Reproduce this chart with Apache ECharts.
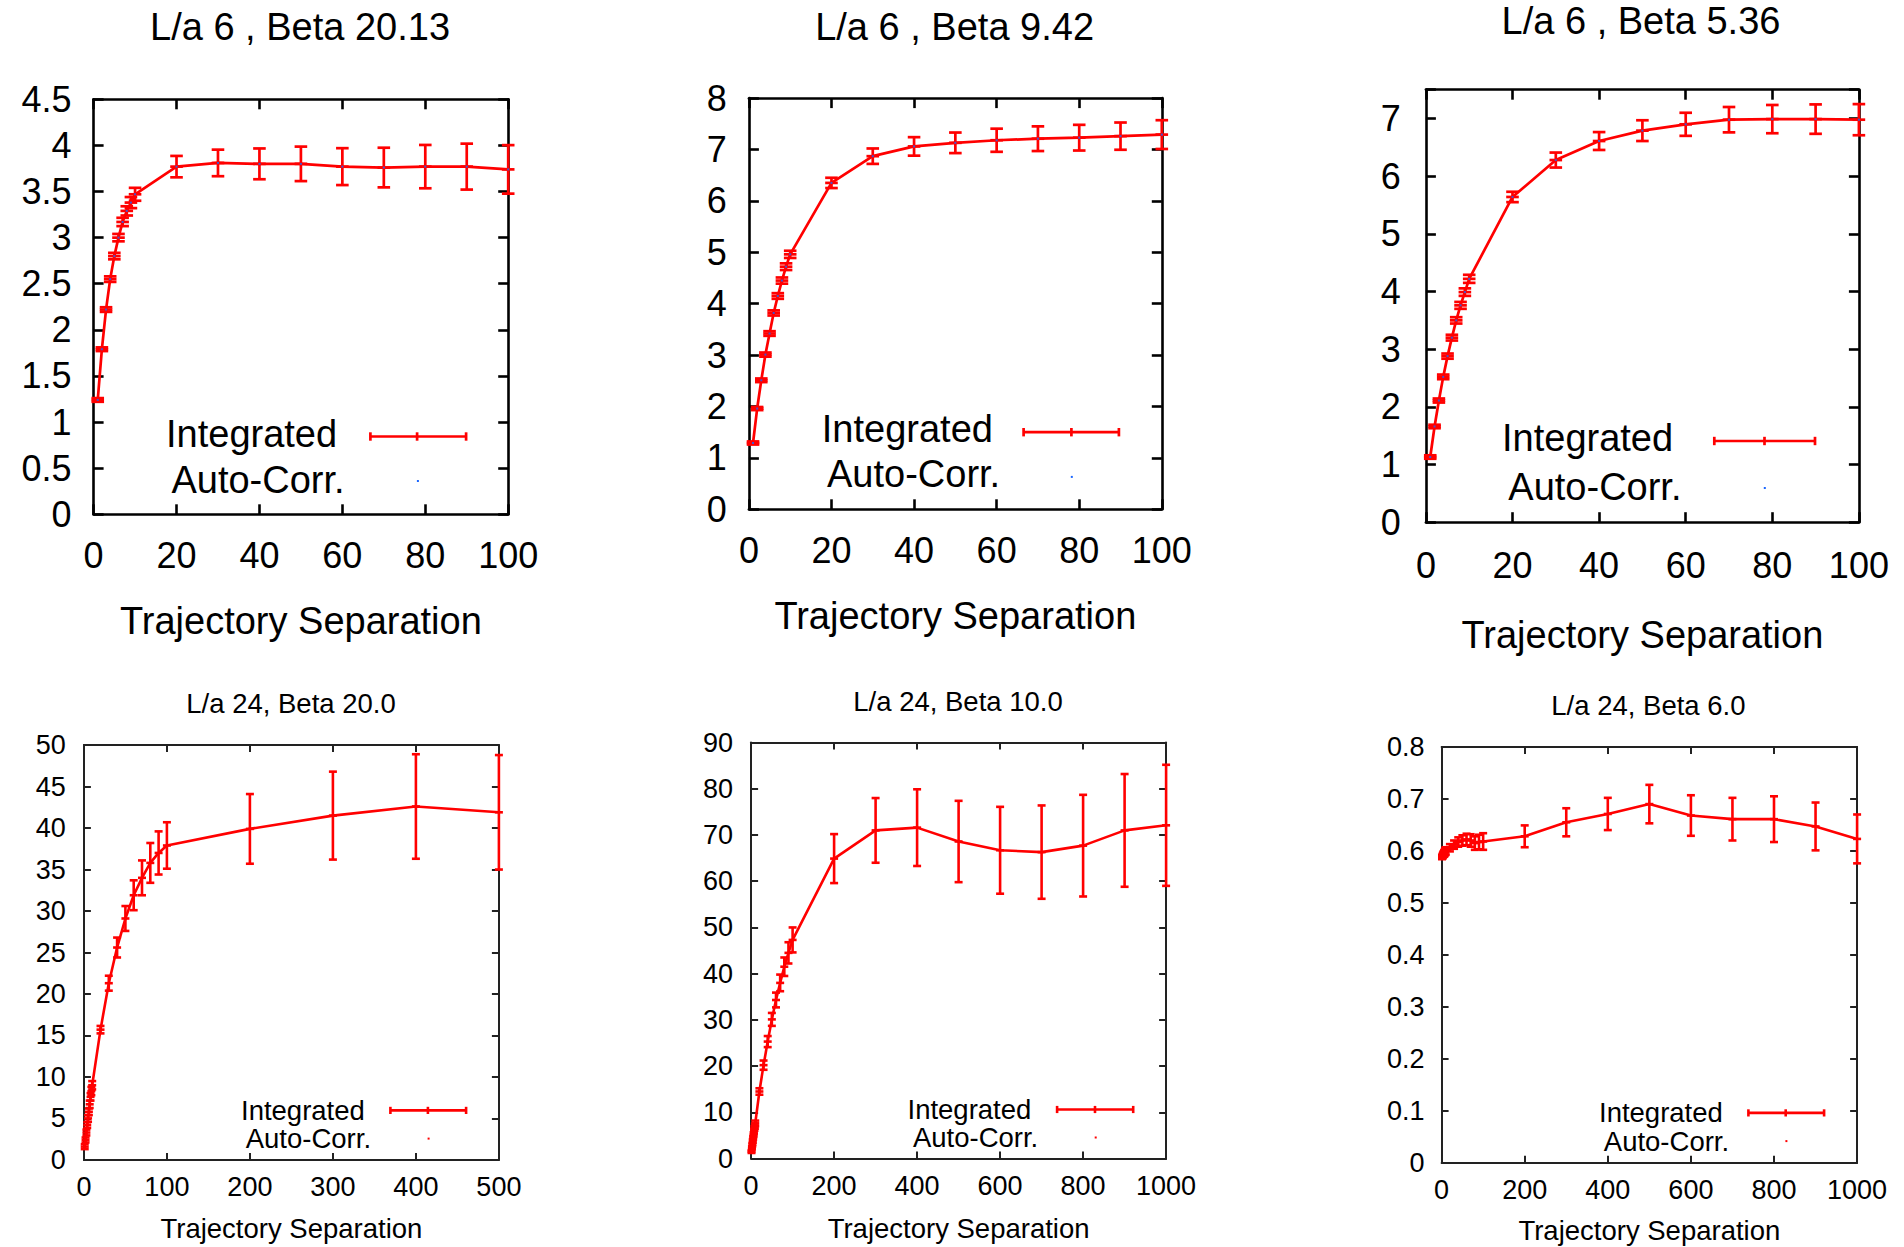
<!DOCTYPE html>
<html>
<head>
<meta charset="utf-8">
<title>Integrated Auto-Correlation vs Trajectory Separation</title>
<script src="https://cdn.jsdelivr.net/npm/echarts@6/dist/echarts.min.js"></script>
<style>
  html, body { margin: 0; padding: 0; background: #fff; }
  #chart { width: 1904px; height: 1247px; }
</style>
</head>
<body>
<div id="chart"></div>
<script>
// ---- Data: trajectory separations and integrated auto-correlation with errors ----
const sepShort = [1, 2, 3, 4, 5, 6, 7, 8, 9, 10, 20, 30, 40, 50, 60, 70, 80, 90, 100];
const sepMid = [1, 2, 3, 4, 5, 6, 7, 8, 9, 10, 20, 30, 40, 50, 60, 70, 80, 90, 100, 200, 300, 400, 500];
const sepLong = [1, 2, 3, 4, 5, 6, 7, 8, 9, 10, 20, 30, 40, 50, 60, 70, 80, 90, 100,
                 200, 300, 400, 500, 600, 700, 800, 900, 1000];

// L/a 6, Beta 20.13
const tauL6B2013 = [1.24, 1.79, 2.22, 2.55, 2.80, 3.00, 3.17, 3.29, 3.38, 3.47,
                    3.77, 3.81, 3.80, 3.80, 3.77, 3.76, 3.77, 3.77, 3.74];
const errL6B2013 = [0.02, 0.02, 0.025, 0.03, 0.035, 0.04, 0.045, 0.05, 0.06, 0.07,
                    0.116, 0.144, 0.167, 0.187, 0.20, 0.215, 0.235, 0.249, 0.263];

// L/a 6, Beta 9.42
const tauL6B942 = [1.29, 1.96, 2.51, 3.01, 3.42, 3.82, 4.15, 4.45, 4.72, 4.96,
                   6.35, 6.87, 7.06, 7.13, 7.18, 7.21, 7.23, 7.26, 7.29];
const errL6B942 = [0.03, 0.03, 0.035, 0.04, 0.045, 0.05, 0.055, 0.06, 0.065, 0.07,
                   0.10, 0.15, 0.18, 0.20, 0.225, 0.24, 0.25, 0.265, 0.28];

// L/a 6, Beta 5.36
const tauL6B536 = [1.13, 1.66, 2.11, 2.52, 2.88, 3.20, 3.50, 3.76, 3.99, 4.22,
                   5.64, 6.28, 6.61, 6.79, 6.90, 6.98, 6.99, 6.99, 6.98];
const errL6B536 = [0.03, 0.03, 0.035, 0.04, 0.045, 0.05, 0.055, 0.06, 0.065, 0.07,
                   0.09, 0.13, 0.155, 0.18, 0.20, 0.22, 0.245, 0.255, 0.27];

// L/a 24, Beta 20.0
const tauL24B20 = [1.6, 2.4, 3.3, 4.2, 5.0, 5.8, 6.7, 7.6, 8.3, 9.0,
                   15.7, 21.3, 25.6, 29.1, 31.9, 34.0, 35.8, 37.0, 37.9,
                   39.9, 41.5, 42.6, 41.9];
const errL24B20 = [0.3, 0.3, 0.35, 0.35, 0.4, 0.4, 0.45, 0.45, 0.5, 0.5,
                   0.45, 0.9, 1.2, 1.5, 1.8, 2.1, 2.4, 2.6, 2.8,
                   4.2, 5.3, 6.3, 6.9];

// L/a 24, Beta 10.0
const tauL24B10 = [1.5, 2.3, 3.0, 3.8, 4.5, 5.2, 5.9, 6.5, 7.0, 7.6,
                   14.5, 20.2, 25.3, 30.1, 34.3, 38.0, 41.5, 44.5, 47.3,
                   64.9, 71.0, 71.6, 68.6, 66.7, 66.3, 67.7, 71.0, 72.1];
const errL24B10 = [0.3, 0.3, 0.35, 0.4, 0.4, 0.45, 0.5, 0.5, 0.55, 0.6,
                   0.7, 1.0, 1.2, 1.4, 1.6, 1.8, 2.0, 2.3, 2.7,
                   5.3, 7.0, 8.3, 8.8, 9.4, 10.1, 11.0, 12.2, 13.1];

// L/a 24, Beta 6.0
const tauL24B6 = [0.588, 0.590, 0.591, 0.593, 0.594, 0.595, 0.596, 0.598, 0.599, 0.600,
                  0.606, 0.612, 0.617, 0.620, 0.622, 0.620, 0.615, 0.617, 0.618,
                  0.628, 0.655, 0.671, 0.690, 0.668, 0.661, 0.661, 0.647, 0.623];
const errL24B6 = [0.004, 0.004, 0.005, 0.005, 0.005, 0.006, 0.006, 0.006, 0.007, 0.007,
                  0.007, 0.008, 0.009, 0.010, 0.011, 0.012, 0.013, 0.014, 0.016,
                  0.021, 0.027, 0.031, 0.037, 0.039, 0.041, 0.044, 0.046, 0.047];

// Panel titles and axis ranges
const panelTitles = ['L/a 6 , Beta 20.13', 'L/a 6 , Beta 9.42', 'L/a 6 , Beta 5.36',
                     'L/a 24, Beta 20.0', 'L/a 24, Beta 10.0', 'L/a 24, Beta 6.0'];
const xRanges = [[0, 100, 20], [0, 100, 20], [0, 100, 20], [0, 500, 100], [0, 1000, 200], [0, 1000, 200]];
const yRanges = [[0, 4.5, 0.5], [0, 8, 1], [0, 7.5, 1], [0, 50, 5], [0, 90, 10], [0, 0.8, 0.1]];
const xAxisTitle = 'Trajectory Separation';
const legendLine1 = 'Integrated';
const legendLine2 = 'Auto-Corr.';

const panelData = [
  [sepShort, tauL6B2013, errL6B2013],
  [sepShort, tauL6B942, errL6B942],
  [sepShort, tauL6B536, errL6B536],
  [sepMid, tauL24B20, errL24B20],
  [sepLong, tauL24B10, errL24B10],
  [sepLong, tauL24B6, errL24B6]
];

// ---- Layout and styling of each panel ----
const FONT = '"Liberation Sans", Arial, Helvetica, sans-serif';
const RED = '#ff0000';
const big = { tick: 36, text: 38, frame: 2.6, frameColor: '#000', tickLen: 10, cap: 6.3, line: 2.7, dotColor: '#1a66ff' };
const small = { tick: 27, text: 27.5, frame: 2, frameColor: '#222', tickLen: 7, cap: 4, line: 2.6, dotColor: RED };

const layouts = [
  { s: big, grid: [93.6, 99.3, 414.6, 415], title: [300, 27.4], yMargin: 22, xMargin: 23, nameGap: 88,
    leg: { t1: [166, 433.5], t2: [171.4, 479.8], line: [370.4, 466.1, 436.5], mid: 417.1, dot: [417.9, 481] } },
  { s: big, grid: [748.9, 98.1, 412.9, 411.2], title: [954.6, 27.4], yMargin: 22, xMargin: 23, nameGap: 88,
    leg: { t1: [821.8, 429.3], t2: [827, 473.5], line: [1023.6, 1118.9, 432.2], mid: 1071.4, dot: [1071.8, 476.9] } },
  { s: big, grid: [1425.9, 89.7, 433, 432.5], title: [1641, 21], yMargin: 25, xMargin: 25, nameGap: 94,
    leg: { t1: [1502, 438], t2: [1508.3, 487.2], line: [1714.3, 1815, 441], mid: 1764.5, dot: [1764.8, 488] } },
  { s: small, grid: [83.9, 745.1, 415, 414.8], title: [291, 703], yMargin: 18, xMargin: 14, nameGap: 55,
    leg: { t1: [241, 1110.4], t2: [245.7, 1138.6], line: [390.4, 466.1, 1110.4], mid: 427.9, dot: [428.6, 1138.6] } },
  { s: small, grid: [751.1, 742.6, 415, 415.9], title: [958, 701.7], yMargin: 18, xMargin: 14, nameGap: 56,
    leg: { t1: [907.5, 1109.7], t2: [912.9, 1137.5], line: [1057.1, 1133.2, 1109.5], mid: 1095, dot: [1095.7, 1137.5] } },
  { s: small, grid: [1441.6, 746.9, 415.5, 415.9], title: [1648.4, 705], yMargin: 17, xMargin: 14, nameGap: 54,
    leg: { t1: [1599, 1112.9], t2: [1603.8, 1141.1], line: [1748.4, 1824.1, 1112.9], mid: 1785.7, dot: [1786.4, 1141.1] } }
];

// Plain number labels (no thousands separators), blank for off-interval ticks
function plainLabel(step) {
  return function (v) {
    const k = Math.round(v / step);
    if (Math.abs(k * step - v) > 1e-9) return '';
    return String(+v.toFixed(3));
  };
}

// Error bar renderer: vertical bar, end caps and a short cross-tick at the point
function makeErrorBar(capPx, lw) {
  return function (params, api) {
    const x = api.value(0), y = api.value(1), e = api.value(2);
    const c = api.coord([x, y]);
    const hi = api.coord([x, y + e]);
    const lo = api.coord([x, y - e]);
    const st = { stroke: RED, lineWidth: lw, fill: null };
    return {
      type: 'group',
      children: [
        { type: 'line', shape: { x1: c[0], y1: hi[1], x2: c[0], y2: lo[1] }, style: st },
        { type: 'line', shape: { x1: c[0] - capPx, y1: hi[1], x2: c[0] + capPx, y2: hi[1] }, style: st },
        { type: 'line', shape: { x1: c[0] - capPx, y1: lo[1], x2: c[0] + capPx, y2: lo[1] }, style: st },
        { type: 'line', shape: { x1: c[0] - capPx, y1: c[1], x2: c[0] + capPx, y2: c[1] }, style: st }
      ]
    };
  };
}

const grids = [], xAxes = [], yAxes = [], series = [], graphics = [];

layouts.forEach(function (L, i) {
  const s = L.s;
  const [gx, gy, gw, gh] = L.grid;
  grids.push({ left: gx, top: gy, width: gw, height: gh, containLabel: false });

  const axisLine = { show: true, onZero: false, lineStyle: { color: s.frameColor, width: s.frame } };
  const axisTick = { show: true, inside: true, length: s.tickLen, lineStyle: { color: s.frameColor, width: s.frame } };
  const [xmin, xmax, xint] = xRanges[i];
  const [ymin, ymax, yint] = yRanges[i];

  xAxes.push({
    type: 'value', gridIndex: i, position: 'bottom', min: xmin, max: xmax, interval: xint,
    axisLine: axisLine, axisTick: axisTick, splitLine: { show: false },
    axisLabel: { color: '#000', fontSize: s.tick, fontFamily: FONT, margin: L.xMargin, formatter: plainLabel(xint) },
    name: xAxisTitle, nameLocation: 'middle', nameGap: L.nameGap,
    nameTextStyle: { color: '#000', fontSize: s.text, fontFamily: FONT }
  });
  xAxes.push({
    type: 'value', gridIndex: i, position: 'top', min: xmin, max: xmax, interval: xint,
    axisLine: axisLine, axisTick: axisTick, splitLine: { show: false }, axisLabel: { show: false }
  });
  yAxes.push({
    type: 'value', gridIndex: i, position: 'left', min: ymin, max: ymax, interval: yint,
    axisLine: axisLine, axisTick: axisTick, splitLine: { show: false },
    axisLabel: { color: '#000', fontSize: s.tick, fontFamily: FONT, margin: L.yMargin, formatter: plainLabel(yint) }
  });
  yAxes.push({
    type: 'value', gridIndex: i, position: 'right', min: ymin, max: ymax, interval: yint,
    axisLine: axisLine, axisTick: axisTick, splitLine: { show: false }, axisLabel: { show: false }
  });

  const [xs, ys, es] = panelData[i];
  const lineData = xs.map(function (x, k) { return [x, ys[k]]; });
  const errData = xs.map(function (x, k) { return [x, ys[k], es[k]]; });

  series.push({
    name: legendLine1, type: 'line', xAxisIndex: 2 * i, yAxisIndex: 2 * i,
    data: lineData, showSymbol: false, symbol: 'none', clip: false,
    lineStyle: { color: RED, width: s.line }, z: 3, silent: true
  });
  series.push({
    name: legendLine1 + ' error', type: 'custom', xAxisIndex: 2 * i, yAxisIndex: 2 * i,
    data: errData, encode: { x: 0, y: 1 }, clip: false,
    renderItem: makeErrorBar(s.cap, s.line), z: 4, silent: true
  });
  series.push({
    name: legendLine2, type: 'scatter', xAxisIndex: 2 * i, yAxisIndex: 2 * i,
    data: lineData, symbol: 'rect', symbolSize: 2, itemStyle: { color: s.dotColor }, z: 5, silent: true
  });

  // Title
  graphics.push({
    type: 'text', x: L.title[0], y: L.title[1], silent: true,
    style: { text: panelTitles[i], fill: '#000', font: s.text + 'px ' + FONT, textAlign: 'center', textVerticalAlign: 'middle' }
  });

  // Key
  const lg = L.leg;
  graphics.push({
    type: 'text', x: lg.t1[0], y: lg.t1[1], silent: true,
    style: { text: legendLine1, fill: '#000', font: s.text + 'px ' + FONT, textAlign: 'left', textVerticalAlign: 'middle' }
  });
  graphics.push({
    type: 'text', x: lg.t2[0], y: lg.t2[1], silent: true,
    style: { text: legendLine2, fill: '#000', font: s.text + 'px ' + FONT, textAlign: 'left', textVerticalAlign: 'middle' }
  });
  const kst = { stroke: RED, lineWidth: s.line };
  const capH = s === big ? 4.2 : 3.6;
  graphics.push({ type: 'line', silent: true, shape: { x1: lg.line[0], y1: lg.line[2], x2: lg.line[1], y2: lg.line[2] }, style: kst });
  graphics.push({ type: 'line', silent: true, shape: { x1: lg.line[0], y1: lg.line[2] - capH, x2: lg.line[0], y2: lg.line[2] + capH }, style: kst });
  graphics.push({ type: 'line', silent: true, shape: { x1: lg.line[1], y1: lg.line[2] - capH, x2: lg.line[1], y2: lg.line[2] + capH }, style: kst });
  graphics.push({ type: 'line', silent: true, shape: { x1: lg.mid, y1: lg.line[2] - capH, x2: lg.mid, y2: lg.line[2] + capH }, style: kst });
  graphics.push({ type: 'rect', silent: true, shape: { x: lg.dot[0] - 1, y: lg.dot[1] - 1, width: 2, height: 2 }, style: { fill: s.dotColor } });
});

const chart = echarts.init(document.getElementById('chart'), null, { renderer: 'svg', width: 1904, height: 1247 });
chart.setOption({
  backgroundColor: '#fff',
  animation: false,
  grid: grids,
  xAxis: xAxes,
  yAxis: yAxes,
  series: series,
  graphic: graphics
});
</script>
</body>
</html>
